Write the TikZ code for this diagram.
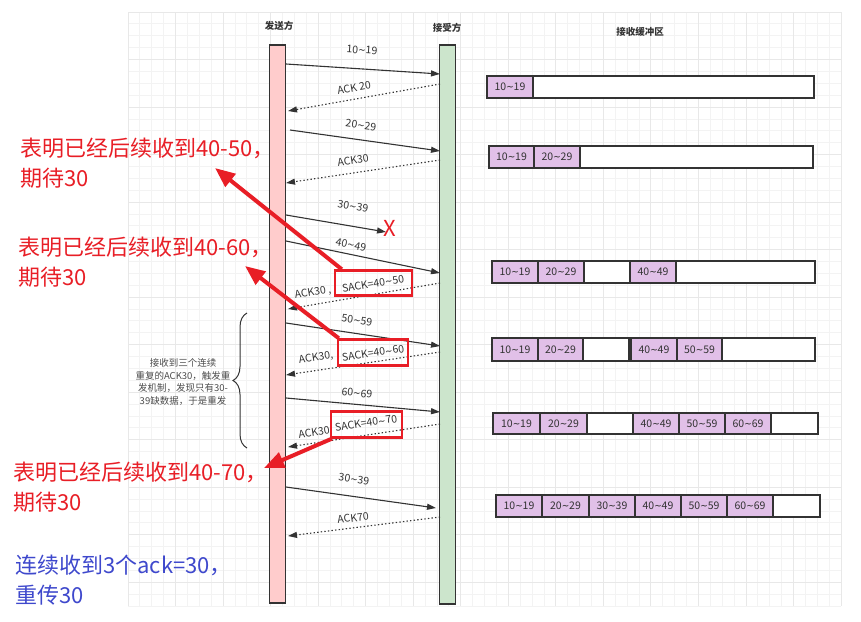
\documentclass[tikz,border=0pt]{standalone}
\usepackage{fontspec}
\setmainfont{Noto Sans CJK SC}
\newfontfamily\tildefont{DejaVu Sans}
\usetikzlibrary{arrows.meta,decorations.pathreplacing}
\definecolor{linec}{RGB}{51,51,51}
\definecolor{pinkf}{RGB}{255,204,204}
\definecolor{greenf}{RGB}{204,229,204}
\definecolor{purpf}{RGB}{225,192,232}
\definecolor{redc}{RGB}{232,30,38}
\definecolor{bluec}{RGB}{62,72,204}
\definecolor{gridminor}{RGB}{243,243,243}
\definecolor{gridmajor}{RGB}{232,232,232}
\newcommand\mytilde{{\tildefont\scalebox{0.85}[1]{\textasciitilde}}}
\begin{document}
\begin{tikzpicture}[x=1pt,y=-1pt,
  bar/.style={draw=linec,line width=1.2pt,inner sep=0pt,minimum width=16pt},
  hdr/.style={font=\fontsize{9.5}{11}\selectfont\bfseries,text=linec,inner sep=0pt},
  lbl/.style={font=\fontsize{10.5}{12}\selectfont,text=linec,inner sep=0pt},
  msg/.style={draw=linec,line width=1.1pt,-{Triangle[length=9pt,width=6pt]}},
  ack/.style={msg,dash pattern=on 1.4pt off 2.2pt},
  buf/.style={draw=linec,line width=1.3pt,fill=white,inner sep=0pt},
  cell/.style={draw=linec,line width=1.1pt,fill=purpf,inner sep=0pt,
    font=\fontsize{10.5}{12}\selectfont,text=linec},
  ecell/.style={cell,fill=white},
  sbox/.style={draw=redc,line width=2.4pt,inner sep=0pt},
  redarr/.style={draw=redc,line width=4pt,-{Triangle[length=20pt,width=16pt]}},
  redtxt/.style={font=\fontsize{22}{30}\selectfont,text=redc,align=left,inner sep=0pt,anchor=west},
  bluetxt/.style={font=\fontsize{22}{30}\selectfont,text=bluec,align=left,inner sep=0pt,anchor=west},
  brtxt/.style={font=\fontsize{9.5}{12.5}\selectfont,text=black!70,align=center,inner sep=0pt}
]
\useasboundingbox (0,0) rectangle (861,621);
% grid
\foreach \i in {0,...,60}{\pgfmathsetmacro\xx{128+\i*11.883}\draw[gridminor,line width=0.8pt] (\xx,12) -- (\xx,606);}
\foreach \j in {0,...,50}{\pgfmathsetmacro\yy{12+\j*11.88}\draw[gridminor,line width=0.8pt] (128,\yy) -- (841,\yy);}
\foreach \i in {0,4,...,60}{\pgfmathsetmacro\xx{128+\i*11.883}\draw[gridmajor,line width=0.8pt] (\xx,12) -- (\xx,606);}
\foreach \j in {0,4,...,48}{\pgfmathsetmacro\yy{12+\j*11.88}\draw[gridmajor,line width=0.8pt] (128,\yy) -- (841,\yy);}

% headers
\node[hdr] (hS) at (279,26) {发送方};
\node[hdr] (hR) at (447,28) {接受方};
\node[hdr] (hB) at (640,32) {接收缓冲区};

% lifelines
\node[bar,fill=pinkf,minimum height=558pt] (S) at (277.5,324) {};
\node[bar,fill=greenf,minimum height=559pt] (R) at (447.5,324.5) {};

% message end points
\coordinate (m1s) at (286,64);  \coordinate (m1e) at (440,74);
\coordinate (a1s) at (440,84);  \coordinate (a1e) at (288,111);
\coordinate (m2s) at (290,130); \coordinate (m2e) at (440,151);
\coordinate (a2s) at (440,160); \coordinate (a2e) at (286,183);
\coordinate (m3s) at (286,215); \coordinate (m3e) at (386,232);
\coordinate (m4s) at (286,241); \coordinate (m4e) at (440,273);
\coordinate (a3s) at (440,283); \coordinate (a3e) at (288,309);
\coordinate (m5s) at (286,323); \coordinate (m5e) at (440,346);
\coordinate (a4s) at (440,352); \coordinate (a4e) at (286,375);
\coordinate (m6s) at (286,398); \coordinate (m6e) at (440,412);
\coordinate (a5s) at (440,424); \coordinate (a5e) at (288,447);
\coordinate (m7s) at (286,487); \coordinate (m7e) at (436,508);
\coordinate (a6s) at (440,517); \coordinate (a6e) at (288,536);

\draw[msg] (m1s) -- (m1e);
\draw[ack] (a1s) -- (a1e);
\draw[msg] (m2s) -- (m2e);
\draw[ack] (a2s) -- (a2e);
\draw[msg] (m3s) -- (m3e);
\draw[msg] (m4s) -- (m4e);
\draw[ack] (a3s) -- (a3e);
\draw[msg] (m5s) -- (m5e);
\draw[ack] (a4s) -- (a4e);
\draw[msg] (m6s) -- (m6e);
\draw[ack] (a5s) -- (a5e);
\draw[msg] (m7s) -- (m7e);
\draw[ack] (a6s) -- (a6e);

% labels
\node[lbl,rotate=-3.7] (l1) at (362,50) {10\mytilde19};
\node[lbl,rotate=10] (l2) at (354,88) {ACK 20};
\node[lbl,rotate=-8] (l3) at (361,125) {20\mytilde29};
\node[lbl,rotate=8.5] (l4) at (353,160) {ACK30};
\node[lbl,rotate=-9.6] (l5) at (353,206) {30\mytilde39};
\node[font=\fontsize{22}{24}\selectfont,text=redc,inner sep=0pt] (lx) at (390,228) {X};
\node[lbl,rotate=-11.7] (l6) at (351,245) {40\mytilde49};
\node[lbl,rotate=9.5] (l7) at (313,293) {ACK30 ,};
\node[lbl,rotate=9.5] (l7b) at (373,284) {SACK=40\mytilde50};
\node[lbl,rotate=-8.5] (l8) at (357,320) {50\mytilde59};
\node[lbl,rotate=8.5] (l9) at (316,358) {ACK30,};
\node[lbl,rotate=8.5] (l9b) at (373,353) {SACK=40\mytilde60};
\node[lbl,rotate=-5.2] (l10) at (357,393) {60\mytilde69};
\node[lbl,rotate=8.5] (l11) at (314,432) {ACK30};
\node[lbl,rotate=8.5] (l11b) at (366,423) {SACK=40\mytilde70};
\node[lbl,rotate=-8] (l12) at (354,479) {30\mytilde39};
\node[lbl,rotate=7.1] (l13) at (353,518) {ACK70};

% red boxes
\node[sbox,minimum width=77pt,minimum height=25pt] (sb1) at (373.5,283) {};
\node[sbox,minimum width=70pt,minimum height=26pt] (sb2) at (373,352.5) {};
\node[sbox,minimum width=71pt,minimum height=26pt] (sb3) at (366.5,424.5) {};

% receive buffers
\node[buf,minimum width=327pt,minimum height=22pt] (b1) at (650.5,87) {};
\node[cell,minimum width=46pt,minimum height=22pt] (c11) at (510,87) {10\mytilde19};

\node[buf,minimum width=324pt,minimum height=22pt] (b2) at (651,157) {};
\node[cell,minimum width=45pt,minimum height=22pt] (c21) at (511.5,157) {10\mytilde19};
\node[cell,minimum width=46pt,minimum height=22pt] (c22) at (557,157) {20\mytilde29};

\node[buf,minimum width=323pt,minimum height=22pt] (b3) at (653.5,272) {};
\node[cell,minimum width=46pt,minimum height=22pt] (c31) at (515,272) {10\mytilde19};
\node[cell,minimum width=46pt,minimum height=22pt] (c32) at (561,272) {20\mytilde29};
\node[ecell,minimum width=46pt,minimum height=22pt] (c33) at (607,272) {};
\node[cell,minimum width=46pt,minimum height=22pt] (c34) at (653,272) {40\mytilde49};

\node[buf,minimum width=323pt,minimum height=23pt] (b4) at (653.5,349.5) {};
\node[cell,minimum width=46pt,minimum height=23pt] (c41) at (515,349.5) {10\mytilde19};
\node[cell,minimum width=45pt,minimum height=23pt] (c42) at (560.5,349.5) {20\mytilde29};
\node[ecell,minimum width=46pt,minimum height=23pt] (c43) at (606,349.5) {};
\node[cell,minimum width=46pt,minimum height=23pt] (c44) at (654,349.5) {40\mytilde49};
\node[cell,minimum width=45pt,minimum height=23pt] (c45) at (699.5,349.5) {50\mytilde59};

\node[buf,minimum width=325pt,minimum height=21pt] (b5) at (655.5,423.5) {};
\node[cell,minimum width=47pt,minimum height=21pt] (c51) at (516.5,423.5) {10\mytilde19};
\node[cell,minimum width=47pt,minimum height=21pt] (c52) at (563.5,423.5) {20\mytilde29};
\node[ecell,minimum width=46pt,minimum height=21pt] (c53) at (610,423.5) {};
\node[cell,minimum width=46pt,minimum height=21pt] (c54) at (656,423.5) {40\mytilde49};
\node[cell,minimum width=46pt,minimum height=21pt] (c55) at (702,423.5) {50\mytilde59};
\node[cell,minimum width=46pt,minimum height=21pt] (c56) at (748,423.5) {60\mytilde69};

\node[buf,minimum width=324pt,minimum height=22pt] (b6) at (658,506) {};
\node[cell,minimum width=46pt,minimum height=22pt] (c61) at (519,506) {10\mytilde19};
\node[cell,minimum width=47pt,minimum height=22pt] (c62) at (565.5,506) {20\mytilde29};
\node[cell,minimum width=46pt,minimum height=22pt] (c63) at (612,506) {30\mytilde39};
\node[cell,minimum width=46pt,minimum height=22pt] (c64) at (658,506) {40\mytilde49};
\node[cell,minimum width=46pt,minimum height=22pt] (c65) at (704,506) {50\mytilde59};
\node[cell,minimum width=46pt,minimum height=22pt] (c66) at (750,506) {60\mytilde69};

% brace and its note
\coordinate (br1) at (247,448);
\coordinate (br2) at (247,313);
\draw[linec,line width=1pt,decorate,decoration={brace,amplitude=14pt}] (br1) -- (br2);
\node[brtxt] (note) at (183,382) {接收到三个连续\\重复的ACK30，触发重\\发机制，发现只有30-\\39缺数据，于是重发};

% red annotations
\coordinate (t1) at (215,168);
\coordinate (t2) at (245,266);
\coordinate (t3) at (264,468);
\draw[redarr] ([xshift=8pt]sb1.north west) -- (t1);
\draw[redarr] ([xshift=2pt]sb2.north west) -- (t2);
\draw[redarr] ([xshift=2pt]sb3.south west) -- (t3);

\node[redtxt] (n1) at (20,163) {表明已经后续收到40-50，\\期待30};
\node[redtxt] (n2) at (18,262) {表明已经后续收到40-60，\\期待30};
\node[redtxt] (n3) at (13,487) {表明已经后续收到40-70，\\期待30};
\node[bluetxt] (n4) at (15,580) {连续收到3个ack=30，\\重传30};
\end{tikzpicture}
\end{document}
